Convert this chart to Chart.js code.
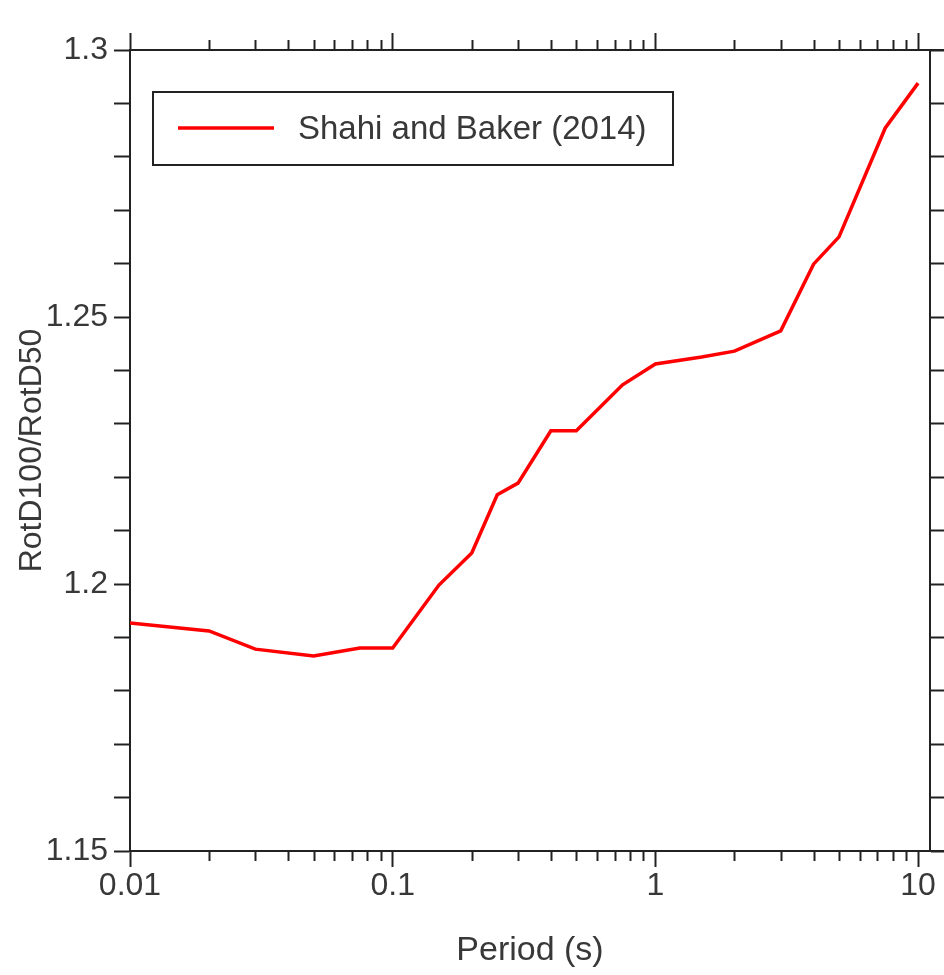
<!DOCTYPE html>
<html>
<head>
<meta charset="utf-8">
<script src="https://cdn.jsdelivr.net/npm/chart.js@4.4.1/dist/chart.umd.min.js"></script>
<style>
  html, body { margin: 0; padding: 0; background: #fff; }
  #wrap { width: 944px; height: 975px; }
</style>
</head>
<body>
<div id="wrap"><canvas id="ratioChart" width="944" height="975"></canvas></div>
<script>
// periods (s) and RotD100/RotD50 ratios
const periods = [0.01, 0.02, 0.03, 0.05, 0.075, 0.1, 0.15, 0.2, 0.25, 0.3, 0.4, 0.5, 0.75, 1, 1.5, 2, 3, 4, 5, 7.5, 10];
const ratios = [1.1927, 1.1912, 1.1878, 1.1865, 1.188, 1.188, 1.1998, 1.2058, 1.2167, 1.2189, 1.2287, 1.2287, 1.2373, 1.2412, 1.2425, 1.2436, 1.2474, 1.2599, 1.265, 1.2854, 1.2938];
const seriesLabel = 'Shahi and Baker (2014)';

const xTicks = [0.01, 0.1, 1, 10];
const xTickLabels = ['0.01', '0.1', '1', '10'];
const yTicks = [1.15, 1.16, 1.17, 1.18, 1.19, 1.2, 1.21, 1.22, 1.23, 1.24, 1.25, 1.26, 1.27, 1.28, 1.29, 1.3];
const yTickLabels = ['1.15', '', '', '', '', '1.2', '', '', '', '', '1.25', '', '', '', '', '1.3'];

const FONT = "'Liberation Sans', Arial, sans-serif";
const TEXT = '#383838';
const AXIS = '#222222';

Chart.defaults.font.family = FONT;
Chart.defaults.font.size = 32;
Chart.defaults.color = TEXT;

const axisGrid = (len) => ({
    display: true,
    drawOnChartArea: false,
    drawTicks: true,
    tickLength: len,
    tickWidth: 2,
    tickColor: AXIS
});
const axisBorder = { display: true, color: AXIS, width: 2 };

// minor log ticks, axis line stubs and the boxed legend
const decorPlugin = {
    id: 'decor',
    afterDraw(chart) {
        const ctx = chart.ctx;
        const area = chart.chartArea;
        ctx.save();
        ctx.strokeStyle = AXIS;
        ctx.lineWidth = 2;

        [['x', 1], ['x2', -1]].forEach(([id, dir]) => {
            const sc = chart.scales[id];
            const y0 = dir > 0 ? area.bottom : area.top;
            for (let d = -2; d <= 0; d++) {
                for (let m = 2; m <= 9; m++) {
                    const v = m * Math.pow(10, d);
                    const px = Math.round(sc.getPixelForValue(v)) + 0.5;
                    ctx.beginPath();
                    ctx.moveTo(px, y0);
                    ctx.lineTo(px, y0 + dir * 10);
                    ctx.stroke();
                }
            }
        });

        // top and bottom axis lines run on to the edge
        ctx.beginPath();
        ctx.moveTo(area.right, area.top);
        ctx.lineTo(chart.width, area.top);
        ctx.moveTo(area.right, area.bottom);
        ctx.lineTo(chart.width, area.bottom);
        ctx.stroke();

        // legend
        const ds = chart.data.datasets[0];
        const bx = area.left + 23, by = area.top + 42, bw = 520, bh = 73;
        ctx.fillStyle = '#fff';
        ctx.fillRect(bx, by, bw, bh);
        ctx.strokeRect(bx, by, bw, bh);
        ctx.strokeStyle = ds.borderColor;
        ctx.lineWidth = ds.borderWidth;
        ctx.beginPath();
        ctx.moveTo(bx + 25, by + 36);
        ctx.lineTo(bx + 121, by + 36);
        ctx.stroke();
        ctx.fillStyle = TEXT;
        ctx.font = '33px ' + FONT;
        ctx.textBaseline = 'middle';
        ctx.textAlign = 'left';
        ctx.fillText(ds.label, bx + 145, by + 38);
        ctx.restore();
    }
};

new Chart(document.getElementById('ratioChart').getContext('2d'), {
    type: 'line',
    data: {
        datasets: [{
            label: seriesLabel,
            data: periods.map((p, i) => ({ x: p, y: ratios[i] })),
            borderColor: '#ff0000',
            borderWidth: 3.5,
            pointRadius: 0,
            tension: 0,
            fill: false
        }]
    },
    options: {
        responsive: false,
        animation: false,
        devicePixelRatio: 1,
        layout: { padding: 0 },
        plugins: {
            legend: { display: false },
            title: { display: false },
            tooltip: { enabled: false }
        },
        scales: {
            x: {
                type: 'logarithmic',
                position: 'bottom',
                min: 0.01,
                max: 11.1,
                afterBuildTicks: (s) => { s.ticks = xTicks.map(v => ({ value: v })); },
                ticks: {
                    autoSkip: false,
                    maxRotation: 0,
                    padding: 0,
                    color: TEXT,
                    callback: (v, i) => xTickLabels[i]
                },
                grid: axisGrid(16),
                border: axisBorder,
                title: {
                    display: true,
                    text: 'Period (s)',
                    color: TEXT,
                    font: { size: 34 },
                    padding: { top: 0, bottom: 4 }
                },
                afterFit: (s) => { s.height = 124; }
            },
            x2: {
                type: 'logarithmic',
                position: 'top',
                min: 0.01,
                max: 11.1,
                afterBuildTicks: (s) => { s.ticks = xTicks.map(v => ({ value: v })); },
                ticks: { display: false },
                grid: axisGrid(17),
                border: axisBorder,
                afterFit: (s) => { s.height = 50; }
            },
            y: {
                type: 'linear',
                position: 'left',
                min: 1.15,
                max: 1.3,
                afterBuildTicks: (s) => { s.ticks = yTicks.map(v => ({ value: v })); },
                ticks: {
                    autoSkip: false,
                    padding: 6,
                    color: TEXT,
                    callback: (v, i) => yTickLabels[i]
                },
                grid: axisGrid(16),
                border: axisBorder,
                title: {
                    display: true,
                    text: 'RotD100/RotD50',
                    color: TEXT,
                    padding: { top: 13, bottom: 0 }
                },
                afterFit: (s) => { s.width = 130; }
            },
            y2: {
                type: 'linear',
                position: 'right',
                min: 1.15,
                max: 1.3,
                afterBuildTicks: (s) => { s.ticks = yTicks.map(v => ({ value: v })); },
                ticks: { display: false },
                grid: axisGrid(14),
                border: axisBorder,
                afterFit: (s) => { s.width = 14; }
            }
        }
    },
    plugins: [decorPlugin]
});
</script>
</body>
</html>
